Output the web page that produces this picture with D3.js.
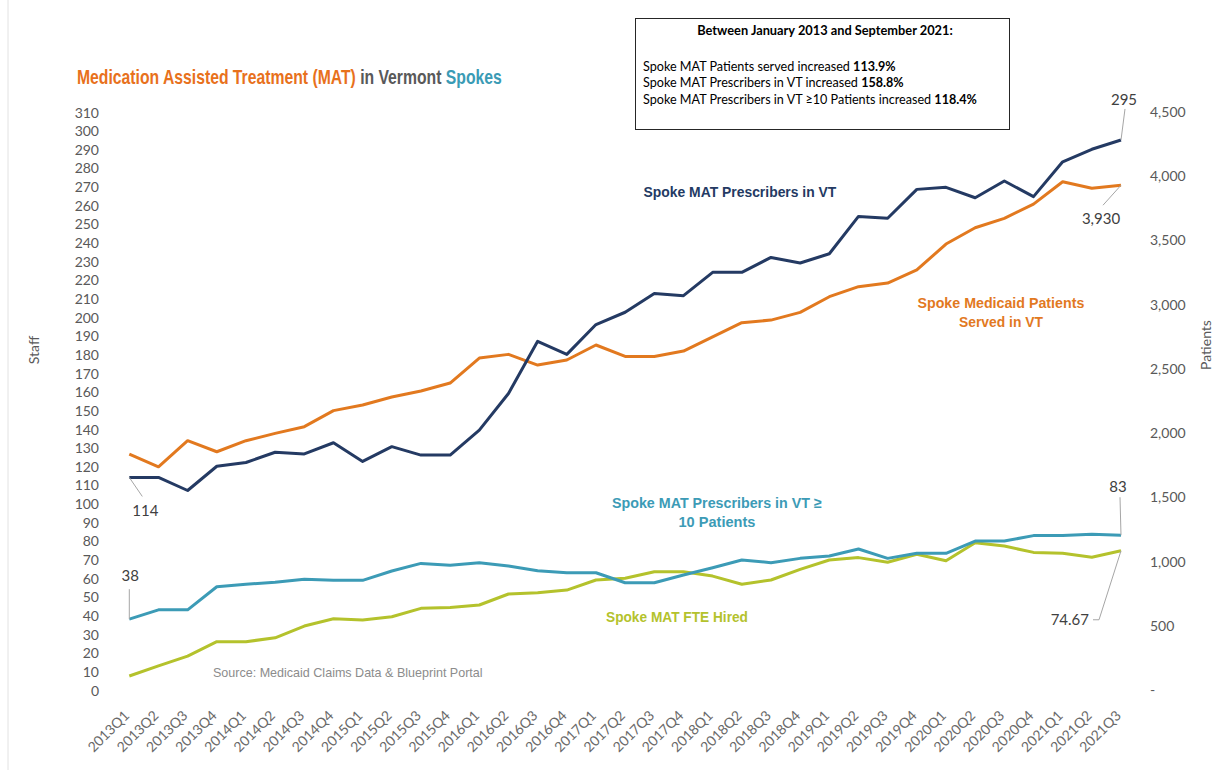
<!DOCTYPE html>
<html>
<head>
<meta charset="utf-8">
<script src="https://cdn.jsdelivr.net/npm/d3@7/dist/d3.min.js"></script>
<style>
  body { margin: 0; background: #fff; }
  .tick text { fill: #595959; font-family: Lato, "Open Sans", sans-serif; font-size: 14px; }
  .cond { font-family: "Liberation Sans", Arial, sans-serif; font-weight: bold; }
</style>
</head>
<body>
<script>
//quarters on the x axis
var quarters = ["2013Q1","2013Q2","2013Q3","2013Q4","2014Q1","2014Q2","2014Q3","2014Q4",
    "2015Q1","2015Q2","2015Q3","2015Q4","2016Q1","2016Q2","2016Q3","2016Q4",
    "2017Q1","2017Q2","2017Q3","2017Q4","2018Q1","2018Q2","2018Q3","2018Q4",
    "2019Q1","2019Q2","2019Q3","2019Q4","2020Q1","2020Q2","2020Q3","2020Q4",
    "2021Q1","2021Q2","2021Q3"];

//staff series (left axis)
var prescribers = [114,114,107,120,122,127.5,126.6,132.6,122.6,130.5,126,126,139.4,159,187,180,
    196,202.6,212.7,211.5,224,224,232,229,234,254,253,268.5,269.6,264,273,264.6,283.3,290,295];
var prescribers10 = [38,43,43,55.4,56.7,57.8,59.4,58.8,58.8,63.8,67.9,66.9,68.3,66.5,64,62.9,
    62.9,57.5,57.5,61.7,65.6,69.7,68.3,70.6,71.9,75.6,70.6,73.3,73.3,79.9,79.9,82.8,82.8,83.5,83];
var fteHired = [7.5,12.9,18.2,25.9,25.9,28,34.3,38.2,37.5,39.3,43.8,44.3,45.6,51.5,52.2,53.6,
    59,59.9,63.4,63.4,61.1,56.7,59,64.7,69.7,71,68.5,72.8,69.3,79,77.2,73.8,73.3,71.2,74.67];

//patients series (right axis)
var patients = [1837,1738,1941,1855,1941,1998,2050,2175,2219,2281,2328,2390,2584,2613,2530,2569,
    2686,2597,2597,2639,2750,2860,2880,2940,3062,3140,3168,3270,3472,3599,3672,3783,3957,3906,3930];

//tick values
var leftTicks = d3.range(0, 311, 10);
var rightTicks = [0,500,1000,1500,2000,2500,3000,3500,4000,4500];

var svgWidth = 1217;
var svgHeight = 770;

var colors = {
    navy: "#243a63",
    orange: "#e2791f",
    teal: "#3c9bb6",
    green: "#b4c22c"
};

var svg = d3.select("body")
    .append("svg")
    .attr("width", svgWidth)
    .attr("height", svgHeight);

svg.append("rect")
    .attr("width", svgWidth)
    .attr("height", svgHeight)
    .attr("fill", "#fff");

//faint ruler line on far left
svg.append("line")
    .attr("x1", 8).attr("x2", 8)
    .attr("y1", 0).attr("y2", svgHeight)
    .attr("stroke", "#e2e2e2");

//scales
var xscale = d3.scalePoint()
    .domain(quarters)
    .range([129.3, 1121]);
var yleft = d3.scaleLinear()
    .domain([0, 310])
    .range([690, 112]);
var yright = d3.scaleLinear()
    .domain([0, 4500])
    .range([690, 112]);

//left axis
var leftaxis = svg.append("g")
    .attr("transform", "translate(103,0)")
    .call(d3.axisLeft(yleft).tickValues(leftTicks).tickSize(0).tickPadding(4));
leftaxis.select(".domain").remove();
leftaxis.selectAll("text").attr("dy", "0.36em");

//right axis
var rightaxis = svg.append("g")
    .attr("transform", "translate(1146,0)")
    .call(d3.axisRight(yright).tickValues(rightTicks).tickSize(0).tickPadding(4)
        .tickFormat(function(d){ return d === 0 ? "-" : d3.format(",")(d); }));
rightaxis.select(".domain").remove();

//bottom axis, rotated labels
var bottomaxis = svg.append("g")
    .attr("transform", "translate(0,700)")
    .call(d3.axisBottom(xscale).tickSize(0));
bottomaxis.select(".domain").remove();
bottomaxis.selectAll("text")
    .attr("x", 0)
    .attr("y", 0)
    .attr("dy", "0.35em")
    .attr("transform", "translate(-3,13) rotate(-45)")
    .style("text-anchor", "end")
    .style("font-size", "14px")
    .style("fill", "#6a6a6a");

//axis titles
svg.append("text")
    .attr("transform", "translate(39,350) rotate(-90)")
    .attr("text-anchor", "middle")
    .attr("fill", "#595959")
    .style("font-family", "Lato, sans-serif")
    .style("font-size", "14px")
    .text("Staff");

svg.append("text")
    .attr("transform", "translate(1211,345) rotate(-90)")
    .attr("text-anchor", "middle")
    .attr("fill", "#595959")
    .style("font-family", "Lato, sans-serif")
    .style("font-size", "14px")
    .text("Patients");

//lines
var leftline = d3.line()
    .x(function(d, i){ return xscale(quarters[i]); })
    .y(function(d){ return yleft(d); });
var rightline = d3.line()
    .x(function(d, i){ return xscale(quarters[i]); })
    .y(function(d){ return yright(d); });

var series = [
    {data: fteHired, line: leftline, color: colors.green},
    {data: prescribers10, line: leftline, color: colors.teal},
    {data: patients, line: rightline, color: colors.orange},
    {data: prescribers, line: leftline, color: colors.navy}
];

svg.selectAll(".series")
    .data(series)
    .enter()
    .append("path")
    .attr("class", "series")
    .attr("d", function(s){ return s.line(s.data); })
    .attr("fill", "none")
    .attr("stroke", function(s){ return s.color; })
    .attr("stroke-width", 3)
    .attr("stroke-linejoin", "round");

//data labels with leader lines
var last = quarters.length - 1;
var x0 = xscale(quarters[0]);
var xN = xscale(quarters[last]);

function leader(points){
    svg.append("path")
        .attr("d", d3.line()(points))
        .attr("fill", "none")
        .attr("stroke", "#a6a6a6")
        .attr("stroke-width", 1);
}
function datalabel(x, y, txt, anchor){
    svg.append("text")
        .attr("x", x)
        .attr("y", y)
        .attr("text-anchor", anchor)
        .attr("fill", "#404040")
        .style("font-family", "Lato, sans-serif")
        .style("font-size", "15px")
        .text(txt);
}

var p0 = yleft(prescribers[0]);
leader([[x0, p0], [x0 + 13, p0 + 19]]);
datalabel(x0 + 16, p0 + 39, "114", "middle");

var t0 = yleft(prescribers10[0]);
leader([[x0, t0], [x0, t0 - 30]]);
datalabel(x0 + 1, t0 - 38, "38", "middle");

var pN = yleft(prescribers[last]);
leader([[xN, pN], [xN + 4, pN - 31]]);
datalabel(xN + 3, pN - 35, "295", "middle");

var oN = yright(patients[last]);
leader([[xN, oN], [xN - 18, oN + 20]]);
datalabel(xN - 20, oN + 39, d3.format(",")(patients[last]), "middle");

var tN = yleft(prescribers10[last]);
leader([[xN, tN], [xN - 1, tN - 38]]);
datalabel(xN - 3, tN - 43, "83", "middle");

var gN = yleft(fteHired[last]);
leader([[xN, gN], [xN - 22, gN + 69], [xN - 28, gN + 69]]);
datalabel(xN - 32, gN + 74, "74.67", "end");

//squeeze a text horizontally so it spans the given width (narrow font look)
function squeeze(t, x, y, width){
    var natural = t.node().getComputedTextLength();
    t.attr("transform", "translate(" + x + "," + y + ") scale(" + (width / natural) + ",1)");
}

//series names
function serieslabel(cx, y, lines, widths, color){
    lines.forEach(function(l, i){
        var t = svg.append("text")
            .attr("class", "cond")
            .attr("fill", color)
            .style("font-size", "15px")
            .text(l);
        squeeze(t, cx - widths[i] / 2, y + i * 19, widths[i]);
    });
}
serieslabel(740, 197, ["Spoke MAT Prescribers in VT"], [193], colors.navy);
serieslabel(1001, 308, ["Spoke Medicaid Patients", "Served in VT"], [167, 84], colors.orange);
serieslabel(717, 508, ["Spoke MAT Prescribers in VT  \u2265", "10 Patients"], [210, 77], colors.teal);
serieslabel(677, 622, ["Spoke MAT FTE Hired"], [142], colors.green);

//source note
var source = svg.append("text")
    .attr("fill", "#8c8c8c")
    .style("font-family", "\"Liberation Sans\", Arial, sans-serif")
    .style("font-size", "13.5px")
    .text("Source: Medicaid Claims Data & Blueprint Portal");
squeeze(source, 213, 677, 270);

//chart title in three coloured pieces
var title = svg.append("text")
    .attr("class", "cond")
    .style("font-size", "20px");
title.append("tspan").attr("fill", "#e8711c").text("Medication Assisted Treatment (MAT)");
title.append("tspan").attr("fill", "#595959").text(" in Vermont ");
title.append("tspan").attr("fill", "#3a9bb5").text("Spokes");
squeeze(title, 77, 84, 425);

//summary box
svg.append("rect")
    .attr("x", 635.5)
    .attr("y", 18.5)
    .attr("width", 374)
    .attr("height", 111)
    .attr("fill", "#fff")
    .attr("stroke", "#262626")
    .attr("stroke-width", 1);

svg.append("text")
    .attr("x", 825)
    .attr("y", 35)
    .attr("text-anchor", "middle")
    .attr("fill", "#000")
    .style("font-family", "Lato, sans-serif")
    .style("font-weight", "bold")
    .style("font-size", "12.8px")
    .text("Between January 2013 and September 2021:");

var boxLines = [
    ["Spoke MAT Patients served increased ", "113.9%"],
    ["Spoke MAT Prescribers in VT increased ", "158.8%"],
    ["Spoke MAT Prescribers in VT \u226510 Patients increased ", "118.4%"]
];
boxLines.forEach(function(l, i){
    var t = svg.append("text")
        .attr("x", 643)
        .attr("y", 71 + i * 16.3)
        .attr("fill", "#000")
        .style("font-family", "Lato, sans-serif")
        .style("font-size", "12.6px");
    t.append("tspan").text(l[0]);
    t.append("tspan").style("font-weight", "bold").text(l[1]);
});
</script>
</body>
</html>
